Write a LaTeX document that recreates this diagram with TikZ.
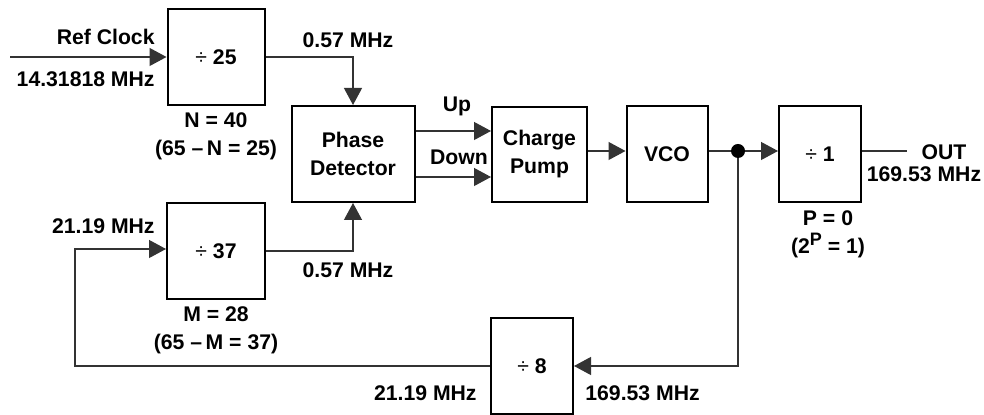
\documentclass[tikz,border=0pt]{standalone}
\usepackage{fontspec}
\setmainfont{Liberation Sans}
\usetikzlibrary{arrows.meta}

\begin{document}
\begin{tikzpicture}[
    x=0.5pt, y=-0.5pt,
    every node/.style={font=\fontsize{10.6}{14}\selectfont\bfseries},
    box/.style={draw, line width=1pt, inner sep=0pt, align=center},
    conn/.style={draw=black!80, line width=0.6pt},
    arr/.style={conn, -{Triangle[length=8.5pt, width=9pt]}},
    lbl/.style={inner sep=0pt, align=center},
    tapdot/.style={circle, fill=black, inner sep=0pt, minimum size=7pt}
]
\useasboundingbox (0,0) rectangle (984,415);

% blocks
\node[box, minimum width=48.5pt, minimum height=48pt] (div25) at (216,57) {\mdseries÷\bfseries\ 25};
\node[box, minimum width=61.5pt, minimum height=48pt] (pd) at (353,154) {Phase\\Detector};
\node[box, minimum width=47.5pt, minimum height=47.5pt] (cp) at (539.5,154.5) {Charge\\Pump};
\node[box, minimum width=40.5pt, minimum height=48pt] (vco) at (667,154) {VCO};
\node[box, minimum width=41pt, minimum height=48pt] (div1) at (820,154) {\mdseries÷\bfseries\ 1};
\node[box, minimum width=49pt, minimum height=48pt] (div37) at (216,251) {\mdseries÷\bfseries\ 37};
\node[box, minimum width=41pt, minimum height=48pt] (div8) at (532,366) {\mdseries÷\bfseries\ 8};

% connection points
\coordinate (refin) at (10,57);
\node[tapdot] (tap) at (738,151) {};
\coordinate (out) at (907,151);
\coordinate (fb) at (75,249);

% labels
\node[lbl, anchor=east] (reftxt) at (155,37) {Ref Clock};
\node[lbl, anchor=east] (reffreq) at (155,79) {14.31818 MHz};
\node[lbl] (ntxt) at (216,136) {N = 40\\(65 –\,N = 25)};
\node[lbl] (pdin1) at (348,40) {0.57 MHz};
\node[lbl] (pdin2) at (348,270) {0.57 MHz};
\node[lbl] (uptxt) at (457,106) {Up};
\node[lbl] (dntxt) at (459,157) {Down};
\node[lbl, anchor=east] (fbfreq) at (155,226) {21.19 MHz};
\node[lbl] (mtxt) at (216,330) {M = 28\\(65 –\,M = 37)};
\node[lbl] (ptxt) at (828,234) {P = 0\\(2\raisebox{4pt}{\fontsize{9}{9}\selectfont P} = 1)};
\node[lbl] (outtxt) at (944,152) {OUT};
\node[lbl] (outfreq) at (924,174) {169.53 MHz};
\node[lbl, anchor=east] (d8out) at (477,393) {21.19 MHz};
\node[lbl, anchor=west] (d8in) at (585,393) {169.53 MHz};

% connectors
\draw[arr] (refin) -- (div25.west);
\draw[arr] (div25.east) -| (pd.north);
\draw[arr] (div37.east) -| (pd.south);
\draw[arr] ([yshift=11.5pt]pd.east) -- ([yshift=11.5pt]pd.east -| cp.west);
\draw[arr] ([yshift=-11.5pt]pd.east) -- ([yshift=-11.5pt]pd.east -| cp.west);
\draw[arr] (cp.east |- tap) -- (vco.west |- tap);
\draw[conn] (vco.east |- tap) -- (tap);
\draw[arr] (tap) -- (div1.west |- tap);
\draw[conn] (div1.east |- tap) -- (out);
\draw[arr] (tap) |- (div8.east);
\draw[arr] (div8.west) -| (fb) -- (div37.west |- fb);
\end{tikzpicture}
\end{document}
